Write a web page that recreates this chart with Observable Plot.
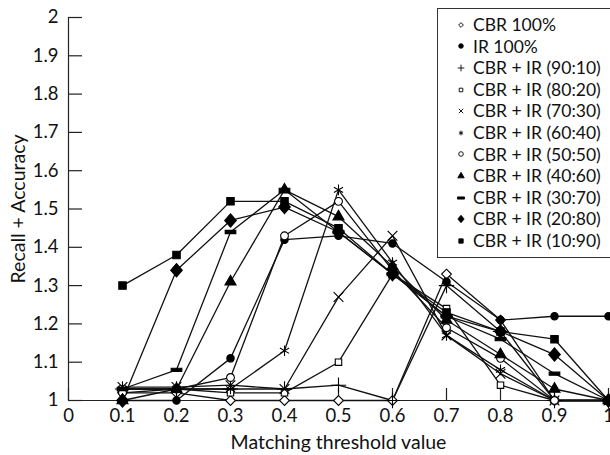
<!DOCTYPE html>
<html>
<head>
<meta charset="utf-8">
<script src="https://cdn.jsdelivr.net/npm/d3@7"></script>
<script src="https://cdn.jsdelivr.net/npm/@observablehq/plot@0.6"></script>
<style>
  html, body { margin: 0; padding: 0; background: #fff; overflow: hidden; }
  #wrap { position: relative; width: 610px; height: 455px; overflow: hidden; }
  #legend { position: absolute; left: 437px; top: 8px; width: 190px; height: 250px;
    border: 1px solid #333; background: #fff; box-sizing: border-box;
    font-family: Lato, "DejaVu Sans", sans-serif; font-size: 17.5px; color: #111; padding-top: 5px; }
  .item { height: 21.6px; line-height: 21.6px; display: flex; align-items: center; white-space: nowrap; }
  .item svg { margin-left: 18px; margin-right: 7px; }
</style>
</head>
<body>
<div id="wrap"><div id="legend"></div></div>
<script>
const thresholds = [0.1, 0.2, 0.3, 0.4, 0.5, 0.6, 0.7, 0.8, 0.9, 1.0];
const xTicks = [0, 0.1, 0.2, 0.3, 0.4, 0.5, 0.6, 0.7, 0.8, 0.9, 1];
const yTicks = [1, 1.1, 1.2, 1.3, 1.4, 1.5, 1.6, 1.7, 1.8, 1.9, 2];

const seriesNames = ["CBR 100%", "IR 100%", "CBR + IR (90:10)", "CBR + IR (80:20)", "CBR + IR (70:30)",
  "CBR + IR (60:40)", "CBR + IR (50:50)", "CBR + IR (40:60)", "CBR + IR (30:70)", "CBR + IR (20:80)", "CBR + IR (10:90)"];

const cbr100 = [1.02, 1.02, 1.00, 1.00, 1.00, 1.00, 1.33, 1.21, 1.00, 1.00];
const ir100  = [1.00, 1.00, 1.11, 1.42, 1.43, 1.41, 1.31, 1.21, 1.22, 1.22];
const mix9010 = [1.03, 1.03, 1.03, 1.03, 1.04, 1.00, 1.30, 1.18, 1.00, 1.00];
const mix8020 = [1.03, 1.03, 1.02, 1.02, 1.10, 1.33, 1.24, 1.04, 1.00, 1.00];
const mix7030 = [1.035, 1.035, 1.04, 1.03, 1.27, 1.43, 1.17, 1.07, 1.00, 1.00];
const mix6040 = [1.03, 1.03, 1.03, 1.13, 1.55, 1.36, 1.17, 1.08, 1.00, 1.00];
const mix5050 = [1.02, 1.03, 1.06, 1.43, 1.52, 1.34, 1.19, 1.11, 1.00, 1.00];
const mix4060 = [1.00, 1.03, 1.31, 1.55, 1.48, 1.35, 1.21, 1.12, 1.03, 1.00];
const mix3070 = [1.03, 1.08, 1.44, 1.55, 1.44, 1.33, 1.22, 1.16, 1.07, 1.00];
const mix2080 = [1.00, 1.34, 1.47, 1.505, 1.44, 1.33, 1.22, 1.18, 1.12, 1.00];
const mix1090 = [1.30, 1.38, 1.52, 1.52, 1.45, 1.33, 1.23, 1.18, 1.16, 1.00];

const seriesValues = [cbr100, ir100, mix9010, mix8020, mix7030, mix6040, mix5050, mix4060, mix3070, mix2080, mix1090];

const dashSymbol = { draw(ctx, size) { const w = Math.sqrt(size) * 1.5, h = Math.sqrt(size) * 0.45;
  ctx.rect(-w / 2, -h / 2, w, h); } };
const fatDiamond = { draw(ctx, size) { const a = Math.sqrt(size) * 0.78, b = a * 1.15;
  ctx.moveTo(0, -b); ctx.lineTo(a, 0); ctx.lineTo(0, b); ctx.lineTo(-a, 0); ctx.closePath(); } };

const styles = [
  { symbol: "diamond2", fill: "white", stroke: "black", r: 4.4, lsize: 26 },
  { symbol: "circle", fill: "black", stroke: "black", r: 3.7, lsize: 30 },
  { symbol: "plus", fill: "none", stroke: "black", r: 5, lsize: 30 },
  { symbol: "square2", fill: "white", stroke: "black", r: 4.1, lsize: 30 },
  { symbol: "times", fill: "none", stroke: "black", r: 4.5, lsize: 26 },
  { symbol: "asterisk", fill: "none", stroke: "black", r: 5, lsize: 30 },
  { symbol: "circle", fill: "white", stroke: "black", r: 3.9, lsize: 30 },
  { symbol: "triangle", fill: "black", stroke: "black", r: 4.1, lsize: 32 },
  { symbol: dashSymbol, fill: "black", stroke: "black", r: 4, lsize: 40 },
  { symbol: fatDiamond, fill: "black", stroke: "black", r: 4.2, lsize: 30 },
  { symbol: "square", fill: "black", stroke: "black", r: 4.2, lsize: 34 }
];

const table = seriesNames.flatMap((name, i) =>
  thresholds.map((t, j) => ({ series: name, idx: i, x: t, y: seriesValues[i][j] })));

const font = "Lato, 'DejaVu Sans', sans-serif";
const fmt = d => String(+d.toFixed(1));

const marks = [
  Plot.ruleX([0], { y1: 1, y2: 2, stroke: "#222", strokeWidth: 1.2 }),
  Plot.ruleY([1], { stroke: "#222", strokeWidth: 1.2, insetRight: -4 }),
  Plot.tickY(yTicks, { y: d => d, insetRight: 526, stroke: "#222", strokeWidth: 1.2 }),
  Plot.tickX(xTicks, { x: d => d, insetTop: 371, stroke: "#222", strokeWidth: 1.2 }),
  Plot.axisY(yTicks, { tickSize: 0, tickPadding: 10, tickFormat: fmt, fontSize: 18.5, fill: "#111" }),
  Plot.axisX(xTicks, { tickSize: 0, tickPadding: 8, tickFormat: fmt, fontSize: 18.5, fill: "#111" }),
  Plot.line(table, { x: "x", y: "y", z: "series", stroke: "#111", strokeWidth: 1.3 })
];
seriesNames.forEach((name, i) => {
  const s = styles[i];
  marks.push(Plot.dot(table.filter(d => d.idx === i), { x: "x", y: "y", symbol: () => s.symbol, r: s.r,
    fill: s.fill, stroke: s.stroke, strokeWidth: 1.1 }));
});

const chart = Plot.plot({
  width: 610, height: 455,
  marginLeft: 68, marginRight: 2, marginTop: 17, marginBottom: 55,
  style: { fontFamily: font, fontSize: "18px", color: "#111", background: "white", overflow: "visible" },
  x: { domain: [0, 1], label: null },
  y: { domain: [1, 2], label: null },
  marks: [
    ...marks,
    Plot.text(["Matching threshold value"], { frameAnchor: "bottom", dy: 48, fontSize: 19.5, fill: "#111" }),
    Plot.text(["Recall + Accuracy"], { frameAnchor: "left", textAnchor: "middle", dx: -50, rotate: -90, fontSize: 19.5, fill: "#111" })
  ]
});
document.getElementById("wrap").prepend(chart);

const legend = d3.select("#legend");
const symMap = { diamond2: d3.symbolDiamond2, circle: d3.symbolCircle, plus: d3.symbolPlus, square2: d3.symbolSquare2,
  times: d3.symbolTimes, asterisk: d3.symbolAsterisk, triangle: d3.symbolTriangle, square: d3.symbolSquare };
seriesNames.forEach((name, i) => {
  const s = styles[i];
  const item = legend.append("div").attr("class", "item");
  const svg = item.append("svg").attr("width", 10).attr("height", 10);
  const sym = typeof s.symbol === "string" ? symMap[s.symbol] : s.symbol;
  svg.append("path").attr("transform", "translate(5,5)")
    .attr("d", d3.symbol(sym, s.lsize * 0.55)())
    .attr("fill", s.fill).attr("stroke", s.stroke).attr("stroke-width", 0.9);
  item.append("span").text(name);
});
</script>
</body>
</html>
